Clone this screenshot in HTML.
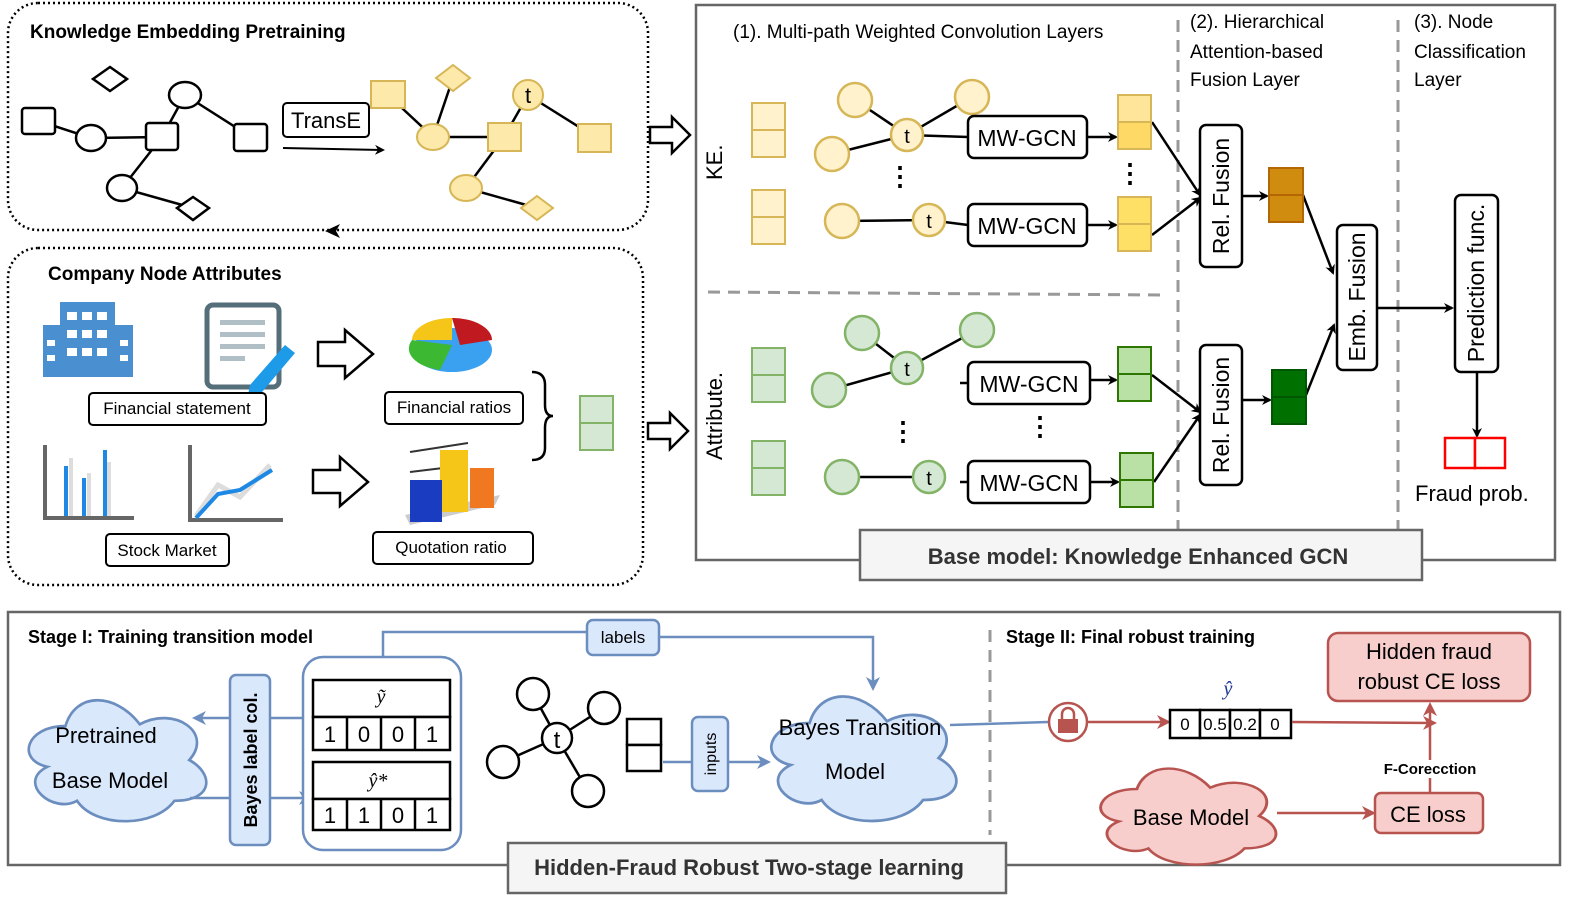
<!DOCTYPE html>
<html><head><meta charset="utf-8"><style>
html,body{margin:0;padding:0;background:#fff}
svg{display:block;font-family:"Liberation Sans",sans-serif}
</style></head><body>
<svg width="1578" height="903" viewBox="0 0 1578 903" xmlns="http://www.w3.org/2000/svg">
<defs>
<marker id="ab" markerWidth="10" markerHeight="10" refX="8" refY="5" orient="auto" markerUnits="userSpaceOnUse"><path d="M0,0 L10,5 L0,10 L3,5z" fill="#000"/></marker>
<marker id="abl" markerWidth="14" markerHeight="14" refX="11" refY="7" orient="auto" markerUnits="userSpaceOnUse"><path d="M0,0 L14,7 L0,14 L4,7z" fill="#6c8ebf"/></marker>
<marker id="ar" markerWidth="14" markerHeight="14" refX="11" refY="7" orient="auto" markerUnits="userSpaceOnUse"><path d="M0,0 L14,7 L0,14 L4,7z" fill="#b85450"/></marker>
<path id="cloud" d="M30 20 C6 20 0 40 19 44 C0 53 22 72 37 64 C48 80 84 80 96 64 C120 64 120 48 105 40 C120 24 96 8 75 19 C60 0 36 0 30 20 Z"/>
</defs>

<!-- Top-left box -->
<rect x="8" y="3" width="640" height="227" rx="30" fill="none" stroke="#000" stroke-width="2.5" stroke-dasharray="2,3"/>
<text x="30" y="38" font-size="19" font-weight="bold">Knowledge Embedding Pretraining</text>
<g stroke="#000" stroke-width="2.5" fill="#fff">
<line x1="39" y1="121" x2="91" y2="138"/><line x1="91" y1="138" x2="162" y2="137"/><line x1="162" y1="137" x2="185" y2="95"/><line x1="185" y1="95" x2="251" y2="137"/><line x1="162" y1="137" x2="122" y2="188"/><line x1="122" y1="188" x2="193" y2="208"/>
<rect x="22" y="108" width="33" height="26" rx="3"/><ellipse cx="91" cy="138" rx="15" ry="13"/><rect x="146" y="123" width="32" height="27" rx="3"/><ellipse cx="185" cy="95" rx="16" ry="13"/><rect x="234" y="124" width="33" height="27" rx="3"/><ellipse cx="122" cy="188" rx="15" ry="13"/>
<path d="M110 67 L127 79 L110 91 L93 79z"/><path d="M193 197 L209 208 L193 220 L177 208z"/>
</g>
<rect x="283" y="103" width="86" height="34" rx="4" fill="#fff" stroke="#000" stroke-width="2"/>
<text x="326" y="128" font-size="22" text-anchor="middle">TransE</text>
<line x1="283" y1="148" x2="383" y2="150" stroke="#000" stroke-width="2" marker-end="url(#ab)"/>
<g stroke="#000" stroke-width="2.5"><line x1="388" y1="95" x2="433" y2="137"/><line x1="433" y1="137" x2="504" y2="137"/><line x1="433" y1="137" x2="453" y2="78"/><line x1="504" y1="137" x2="528" y2="95"/><line x1="528" y1="95" x2="595" y2="137"/><line x1="504" y1="137" x2="466" y2="188"/><line x1="466" y1="188" x2="537" y2="208"/></g>
<g stroke="#d6b656" stroke-width="2" fill="#fde9a9">
<rect x="371" y="81" width="34" height="27"/><ellipse cx="433" cy="137" rx="16" ry="13"/><path d="M453 65 L470 78 L453 91 L436 78z"/><circle cx="528" cy="95" r="15"/><rect x="488" y="123" width="33" height="28"/><rect x="578" y="124" width="33" height="28"/><ellipse cx="466" cy="188" rx="16" ry="13"/><path d="M537 196 L553 208 L537 220 L521 208z"/>
</g>
<text x="528" y="103" font-size="22" text-anchor="middle">t</text>
<path d="M650 127 H672 V117 L690 135 L672 153 V143 H650z" fill="#fff" stroke="#000" stroke-width="2.5"/>
<path d="M340 224 L325 231 L340 238 L336 231z" fill="#000"/>

<!-- Company node attributes -->
<rect x="8" y="248" width="635" height="337" rx="30" fill="none" stroke="#000" stroke-width="2.5" stroke-dasharray="2,3"/>
<text x="48" y="280" font-size="19" font-weight="bold">Company Node Attributes</text>
<g fill="#4a90d0"><rect x="60" y="302" width="55" height="75"/><rect x="43" y="325" width="90" height="52"/></g>
<g fill="#fff"><rect x="67" y="312" width="10" height="8"/><rect x="82" y="312" width="10" height="8"/><rect x="97" y="312" width="10" height="8"/><rect x="67" y="330" width="10" height="8"/><rect x="82" y="330" width="10" height="8"/><rect x="97" y="330" width="10" height="8"/><rect x="67" y="348" width="10" height="8"/><rect x="82" y="348" width="10" height="8"/><rect x="97" y="348" width="10" height="8"/><rect x="47" y="340" width="8" height="6"/><rect x="47" y="355" width="8" height="6"/><rect x="120" y="340" width="8" height="6"/><rect x="120" y="355" width="8" height="6"/></g>
<rect x="207" y="305" width="72" height="82" rx="6" fill="#fff" stroke="#546e7a" stroke-width="5"/>
<g fill="#b0bec5"><rect x="220" y="320" width="45" height="5"/><rect x="220" y="332" width="45" height="5"/><rect x="220" y="344" width="45" height="5"/><rect x="220" y="356" width="25" height="5"/></g>
<path d="M250 385 L285 345 L295 353 L262 392 L248 395z" fill="#1e9be8"/>
<rect x="89" y="393" width="177" height="32" rx="4" fill="#fff" stroke="#000" stroke-width="2"/>
<text x="177" y="414" font-size="17" text-anchor="middle">Financial statement</text>
<path d="M318 342 H345 V330 L373 354 L345 378 V366 H318z" fill="#fff" stroke="#000" stroke-width="2.5"/>
<ellipse cx="452" cy="350" rx="40" ry="22" fill="#3aa0f0"/><path d="M412 340 A40 22 0 0 1 452 318 L452 340z" fill="#f5c518"/><path d="M452 318 A40 22 0 0 1 492 340 L460 345z" fill="#c0191f"/><path d="M412 340 A40 22 0 0 0 440 370 L452 345z" fill="#3cb832"/>
<rect x="385" y="392" width="138" height="32" rx="4" fill="#fff" stroke="#000" stroke-width="2"/>
<text x="454" y="413" font-size="17" text-anchor="middle">Financial ratios</text>
<path d="M532 372 Q545 372 545 385 V405 Q545 416 553 416 Q545 416 545 428 V448 Q545 460 532 460" fill="none" stroke="#000" stroke-width="2.5"/>
<rect x="580" y="396" width="33" height="27" fill="#d5e8d4" stroke="#82b366" stroke-width="2"/><rect x="580" y="423" width="33" height="27" fill="#d5e8d4" stroke="#82b366" stroke-width="2"/>
<path d="M648 423 H670 V413 L688 431 L670 449 V439 H648z" fill="#fff" stroke="#000" stroke-width="2.5"/>
<path d="M45 445 V518 H134" fill="none" stroke="#666" stroke-width="4"/>
<g fill="#ddd"><rect x="69" y="458" width="4" height="58"/><rect x="87" y="473" width="4" height="43"/><rect x="107" y="462" width="4" height="54"/></g>
<g fill="#1e88e5"><rect x="64" y="466" width="4" height="50"/><rect x="82" y="478" width="4" height="38"/><rect x="103" y="450" width="4" height="66"/></g>
<path d="M190 445 V520 H283" fill="none" stroke="#666" stroke-width="4"/>
<polyline points="196,516 218,485 240,497 270,465" fill="none" stroke="#ddd" stroke-width="5"/>
<polyline points="196,518 218,494 240,490 272,470" fill="none" stroke="#1e88e5" stroke-width="4"/>
<rect x="106" y="534" width="123" height="32" rx="4" fill="#fff" stroke="#000" stroke-width="2"/>
<text x="167" y="556" font-size="17" text-anchor="middle">Stock Market</text>
<path d="M313 470 H340 V457 L368 482 L340 506 V493 H313z" fill="#fff" stroke="#000" stroke-width="2.5"/>
<line x1="410" y1="452" x2="468" y2="443" stroke="#333" stroke-width="2"/><line x1="410" y1="472" x2="468" y2="465" stroke="#333" stroke-width="2"/>
<path d="M405 515 L500 495 L495 505 L410 525z" fill="#ccc"/>
<rect x="440" y="450" width="28" height="62" fill="#f5c518"/><rect x="470" y="468" width="24" height="40" fill="#f07820"/><rect x="410" y="480" width="32" height="42" fill="#1a3cc0"/>
<rect x="373" y="532" width="160" height="32" rx="4" fill="#fff" stroke="#000" stroke-width="2"/>
<text x="451" y="553" font-size="17" text-anchor="middle">Quotation ratio</text>

<!-- Right panel -->
<rect x="696" y="5" width="1859" height="555" fill="none" stroke="none"/>
<rect x="696" y="5" width="859" height="555" fill="none" stroke="#666" stroke-width="2.5"/>
<text x="733" y="38" font-size="19">(1). Multi-path Weighted Convolution Layers</text>
<g font-size="19"><text x="1190" y="28">(2). Hierarchical</text><text x="1190" y="58">Attention-based</text><text x="1190" y="86">Fusion Layer</text><text x="1414" y="28">(3). Node</text><text x="1414" y="58">Classification</text><text x="1414" y="86">Layer</text></g>
<g stroke="#999" stroke-width="3" stroke-dasharray="12,8"><line x1="1178" y1="20" x2="1178" y2="530"/><line x1="1398" y1="20" x2="1398" y2="530"/><line x1="708" y1="292" x2="1168" y2="295"/></g>
<text transform="translate(722,180) rotate(-90)" font-size="22">KE.</text>
<text transform="translate(722,460) rotate(-90)" font-size="22">Attribute.</text>
<g stroke="#d6b656" stroke-width="2" fill="#fff2cc"><rect x="752" y="103" width="33" height="27"/><rect x="752" y="130" width="33" height="27"/><rect x="752" y="190" width="33" height="27"/><rect x="752" y="217" width="33" height="27"/></g>
<g stroke="#82b366" stroke-width="2" fill="#d5e8d4"><rect x="752" y="348" width="33" height="27"/><rect x="752" y="375" width="33" height="27"/><rect x="752" y="441" width="33" height="27"/><rect x="752" y="468" width="33" height="27"/></g>
<g stroke="#000" stroke-width="2.5"><line x1="855" y1="100" x2="907" y2="135"/><line x1="972" y1="97" x2="907" y2="135"/><line x1="832" y1="154" x2="907" y2="135"/><line x1="842" y1="221" x2="929" y2="220"/><line x1="907" y1="135" x2="968" y2="137"/><line x1="929" y1="220" x2="968" y2="225"/>
<line x1="862" y1="333" x2="907" y2="368"/><line x1="977" y1="330" x2="907" y2="368"/><line x1="829" y1="390" x2="907" y2="368"/><line x1="842" y1="477" x2="929" y2="477"/><line x1="960" y1="383" x2="968" y2="383"/><line x1="960" y1="482" x2="968" y2="482"/></g>
<g stroke="#d6b656" stroke-width="2.5" fill="#fff2cc"><circle cx="855" cy="100" r="17"/><circle cx="972" cy="97" r="17"/><circle cx="832" cy="154" r="17"/><circle cx="907" cy="135" r="16"/><circle cx="842" cy="221" r="17"/><circle cx="929" cy="220" r="16"/></g>
<g stroke="#82b366" stroke-width="2.5" fill="#d5e8d4"><circle cx="862" cy="333" r="17"/><circle cx="977" cy="330" r="17"/><circle cx="829" cy="390" r="17"/><circle cx="907" cy="368" r="16"/><circle cx="842" cy="477" r="17"/><circle cx="929" cy="477" r="16"/></g>
<g font-size="20" text-anchor="middle"><text x="907" y="143">t</text><text x="929" y="228">t</text><text x="907" y="376">t</text><text x="929" y="485">t</text></g>
<g font-size="26" font-weight="bold" text-anchor="middle"><text x="900" y="185">⋮</text><text x="1130" y="182">⋮</text><text x="903" y="440">⋮</text><text x="1040" y="435">⋮</text></g>
<g stroke="#000" stroke-width="2.5" fill="#fff"><rect x="968" y="116" width="119" height="42" rx="6"/><rect x="968" y="204" width="119" height="42" rx="6"/><rect x="968" y="362" width="122" height="42" rx="6"/><rect x="968" y="461" width="122" height="42" rx="6"/></g>
<g font-size="23" text-anchor="middle"><text x="1027" y="146">MW-GCN</text><text x="1027" y="234">MW-GCN</text><text x="1029" y="392">MW-GCN</text><text x="1029" y="491">MW-GCN</text></g>
<g stroke="#000" stroke-width="2.5" marker-end="url(#ab)"><line x1="1087" y1="137" x2="1116" y2="137"/><line x1="1087" y1="225" x2="1116" y2="225"/><line x1="1090" y1="380" x2="1116" y2="380"/><line x1="1090" y1="482" x2="1118" y2="482"/>
<line x1="1152" y1="122" x2="1200" y2="195"/><line x1="1152" y1="235" x2="1200" y2="198"/><line x1="1152" y1="375" x2="1200" y2="412"/><line x1="1154" y1="482" x2="1200" y2="415"/>
<line x1="1242" y1="196" x2="1267" y2="196"/><line x1="1242" y1="400" x2="1270" y2="400"/><line x1="1303" y1="195" x2="1333" y2="273"/><line x1="1306" y1="395" x2="1334" y2="325"/><line x1="1377" y1="308" x2="1452" y2="308"/><line x1="1477" y1="372" x2="1477" y2="436"/></g>
<g stroke="#d6b656" stroke-width="2"><rect x="1118" y="95" width="33" height="27" fill="#ffe599"/><rect x="1118" y="122" width="33" height="27" fill="#ffd966"/><rect x="1118" y="197" width="33" height="27" fill="#ffe066"/><rect x="1118" y="224" width="33" height="27" fill="#ffe066"/></g>
<g stroke="#2d7600" stroke-width="2" fill="#b9e0a5"><rect x="1118" y="347" width="33" height="27"/><rect x="1118" y="374" width="33" height="27"/><rect x="1120" y="453" width="33" height="27"/><rect x="1120" y="480" width="33" height="27"/></g>
<g stroke="#b46504" stroke-width="2" fill="#d08c0f"><rect x="1269" y="168" width="34" height="27"/><rect x="1269" y="195" width="34" height="27"/></g>
<g stroke="#005700" stroke-width="2" fill="#007000"><rect x="1272" y="370" width="34" height="27"/><rect x="1272" y="397" width="34" height="27"/></g>
<g stroke="#000" stroke-width="2.5" fill="#fff"><rect x="1200" y="125" width="42" height="142" rx="6"/><rect x="1200" y="345" width="42" height="140" rx="6"/><rect x="1337" y="225" width="40" height="145" rx="6"/><rect x="1455" y="195" width="43" height="177" rx="6"/></g>
<g font-size="23" text-anchor="middle"><text transform="translate(1229,196) rotate(-90)">Rel. Fusion</text><text transform="translate(1229,415) rotate(-90)">Rel. Fusion</text><text transform="translate(1365,297) rotate(-90)">Emb. Fusion</text><text transform="translate(1484,283) rotate(-90)">Prediction func.</text></g>
<g stroke="#f00" stroke-width="2.5" fill="#fff"><rect x="1445" y="438" width="30" height="30"/><rect x="1475" y="438" width="30" height="30"/></g>
<text x="1415" y="501" font-size="22">Fraud prob.</text>
<rect x="860" y="530" width="562" height="50" fill="#f5f5f5" stroke="#666" stroke-width="2.5"/>
<text x="1138" y="564" font-size="22" font-weight="bold" text-anchor="middle" fill="#333">Base model: Knowledge Enhanced GCN</text>

<!-- Bottom -->
<rect x="8" y="612" width="1552" height="253" fill="none" stroke="#666" stroke-width="2.5"/>
<text x="28" y="643" font-size="18" font-weight="bold">Stage I: Training transition model</text>
<text x="1006" y="643" font-size="18" font-weight="bold">Stage II: Final robust training</text>
<line x1="990" y1="630" x2="990" y2="835" stroke="#999" stroke-width="3" stroke-dasharray="12,8"/>
<use href="#cloud" transform="translate(16,692) scale(1.65,1.7)" fill="#dae8fc" stroke="#6c8ebf" stroke-width="1.6"/>
<text x="106" y="743" font-size="22" text-anchor="middle">Pretrained</text><text x="110" y="788" font-size="22" text-anchor="middle">Base Model</text>
<line x1="303" y1="718" x2="195" y2="718" stroke="#6c8ebf" stroke-width="2.5" marker-end="url(#abl)"/>
<line x1="190" y1="798" x2="310" y2="798" stroke="#6c8ebf" stroke-width="2.5" marker-end="url(#abl)"/>
<rect x="230" y="675" width="40" height="170" rx="6" fill="#dae8fc" stroke="#6c8ebf" stroke-width="2.5"/>
<text transform="translate(257,760) rotate(-90)" font-size="18" font-weight="bold" text-anchor="middle">Bayes label col.</text>
<rect x="303" y="657" width="158" height="193" rx="20" fill="#fff" stroke="#6c8ebf" stroke-width="2.5"/>
<g stroke="#000" stroke-width="2.5" fill="#fff"><rect x="313" y="680" width="137" height="37"/><rect x="313" y="717" width="137" height="33"/><rect x="313" y="762" width="137" height="37"/><rect x="313" y="799" width="137" height="31"/><line x1="347" y1="717" x2="347" y2="750"/><line x1="381" y1="717" x2="381" y2="750"/><line x1="415" y1="717" x2="415" y2="750"/><line x1="347" y1="799" x2="347" y2="830"/><line x1="381" y1="799" x2="381" y2="830"/><line x1="415" y1="799" x2="415" y2="830"/></g>
<g font-size="22" text-anchor="middle"><text x="330" y="742">1</text><text x="364" y="742">0</text><text x="398" y="742">0</text><text x="432" y="742">1</text><text x="330" y="823">1</text><text x="364" y="823">1</text><text x="398" y="823">0</text><text x="432" y="823">1</text></g>
<text x="381" y="703" font-size="20" font-style="italic" text-anchor="middle" font-family="Liberation Serif,serif">ỹ</text>
<text x="378" y="787" font-size="20" font-style="italic" text-anchor="middle" font-family="Liberation Serif,serif">ŷ*</text>
<polyline points="383,657 383,632 587,632" fill="none" stroke="#6c8ebf" stroke-width="2.5"/>
<polyline points="659,637 873,637 873,688" fill="none" stroke="#6c8ebf" stroke-width="2.5" marker-end="url(#abl)"/>
<rect x="587" y="620" width="72" height="35" rx="6" fill="#dae8fc" stroke="#6c8ebf" stroke-width="2.5"/>
<text x="623" y="643" font-size="17" text-anchor="middle">labels</text>
<g stroke="#000" stroke-width="2.5" fill="#fff"><line x1="533" y1="694" x2="557" y2="738"/><line x1="604" y1="708" x2="557" y2="738"/><line x1="503" y1="762" x2="557" y2="738"/><line x1="588" y1="791" x2="557" y2="738"/><circle cx="533" cy="694" r="16"/><circle cx="604" cy="708" r="16"/><circle cx="503" cy="762" r="16"/><circle cx="588" cy="791" r="16"/><circle cx="557" cy="738" r="15"/><rect x="627" y="719" width="34" height="26"/><rect x="627" y="745" width="34" height="26"/></g>
<text x="557" y="748" font-size="24" text-anchor="middle">t</text>
<line x1="663" y1="762" x2="692" y2="762" stroke="#6c8ebf" stroke-width="2.5"/>
<line x1="728" y1="762" x2="768" y2="762" stroke="#6c8ebf" stroke-width="2.5" marker-end="url(#abl)"/>
<rect x="692" y="717" width="36" height="74" rx="6" fill="#dae8fc" stroke="#6c8ebf" stroke-width="2.5"/>
<text transform="translate(716,754) rotate(-90)" font-size="16" text-anchor="middle">inputs</text>
<use href="#cloud" transform="translate(758,688) scale(1.72,1.75)" fill="#dae8fc" stroke="#6c8ebf" stroke-width="1.6"/>
<text x="860" y="735" font-size="22" text-anchor="middle">Bayes Transition</text><text x="855" y="779" font-size="22" text-anchor="middle">Model</text>
<line x1="950" y1="725" x2="1048" y2="722" stroke="#6c8ebf" stroke-width="2.5"/>
<circle cx="1068" cy="722" r="19" fill="#fff" stroke="#b85450" stroke-width="2.5"/>
<rect x="1058" y="719" width="20" height="14" fill="#b85450"/><path d="M1062 719 V714 A6 6 0 0 1 1074 714 V719" fill="none" stroke="#b85450" stroke-width="2.5"/>
<line x1="1087" y1="722" x2="1168" y2="722" stroke="#b85450" stroke-width="2.5" marker-end="url(#ar)"/>
<g stroke="#000" stroke-width="2.5" fill="#fff"><rect x="1170" y="710" width="30" height="28"/><rect x="1200" y="710" width="30" height="28"/><rect x="1230" y="710" width="30" height="28"/><rect x="1260" y="710" width="31" height="28"/></g>
<g font-size="17" text-anchor="middle"><text x="1185" y="730">0</text><text x="1215" y="730">0.5</text><text x="1245" y="730">0.2</text><text x="1275" y="730">0</text></g>
<text x="1228" y="695" font-size="20" font-style="italic" fill="#1f3a93" text-anchor="middle" font-family="Liberation Serif,serif">ŷ</text>
<line x1="1292" y1="722" x2="1434" y2="723" stroke="#b85450" stroke-width="2.5" marker-end="url(#ar)"/>
<line x1="1430" y1="793" x2="1430" y2="705" stroke="#b85450" stroke-width="2.5" marker-end="url(#ar)"/>
<rect x="1328" y="633" width="202" height="68" rx="10" fill="#f8cecc" stroke="#b85450" stroke-width="2.5"/>
<text x="1429" y="659" font-size="22" text-anchor="middle">Hidden fraud</text><text x="1429" y="689" font-size="22" text-anchor="middle">robust CE loss</text>
<rect x="1395" y="760" width="80" height="18" fill="#fff"/>
<text x="1430" y="774" font-size="15" font-weight="bold" text-anchor="middle">F-Corecction</text>
<use href="#cloud" transform="translate(1088,762) scale(1.63,1.35)" fill="#f8cecc" stroke="#b85450" stroke-width="1.8"/>
<text x="1191" y="825" font-size="22" text-anchor="middle">Base Model</text>
<line x1="1277" y1="813" x2="1373" y2="813" stroke="#b85450" stroke-width="2.5" marker-end="url(#ar)"/>
<rect x="1375" y="793" width="108" height="40" rx="6" fill="#f8cecc" stroke="#b85450" stroke-width="2.5"/>
<text x="1428" y="822" font-size="22" text-anchor="middle">CE loss</text>
<rect x="508" y="843" width="498" height="50" fill="#f5f5f5" stroke="#666" stroke-width="2.5"/>
<text x="749" y="875" font-size="22" font-weight="bold" text-anchor="middle" fill="#333">Hidden-Fraud Robust Two-stage learning</text>
</svg>
</body></html>
